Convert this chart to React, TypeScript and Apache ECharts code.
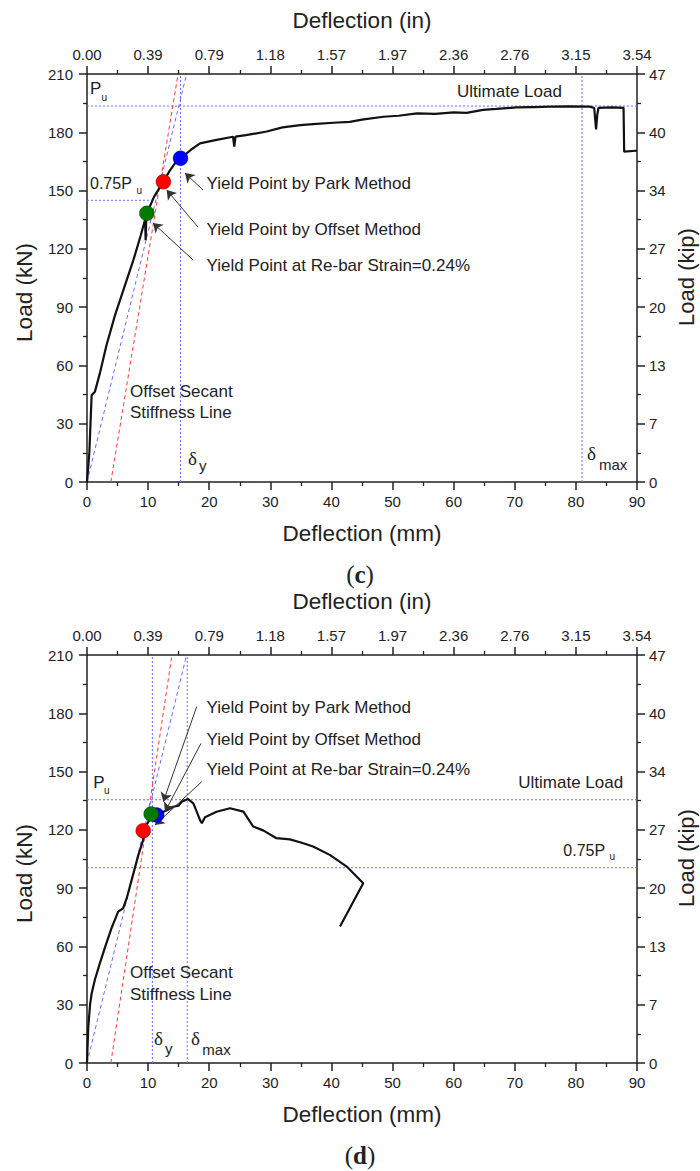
import React, { useEffect, useRef } from "react";
import * as echarts from "echarts";

// ---------- tick labels ----------
const mmLabels = ["0", "10", "20", "30", "40", "50", "60", "70", "80", "90"];
const inchLabels = ["0.00", "0.39", "0.79", "1.18", "1.57", "1.97", "2.36", "2.76", "3.15", "3.54"];
const kNLabels = ["0", "30", "60", "90", "120", "150", "180", "210"];
const kipLabels = ["0", "7", "13", "20", "27", "34", "40", "47"];

// ---------- panel (c) ----------
const curveC: [number, number][] = [
  [0, 0], [0.38, 14.8], [0.76, 44.8], [1.3, 46.5], [2.1, 55.9], [3.2, 70.5], [4.6, 86],
  [5.95, 98.8], [7.6, 114.3], [8.8, 127], [9.5, 135], [9.6, 124.5], [9.7, 136], [9.8, 138.3],
  [11.0, 147], [12.5, 154.5], [13.5, 160], [14.5, 164.5], [15.4, 166.6], [17.0, 171],
  [18.5, 174.3], [21, 176], [23.9, 177.7], [24.1, 172.6], [24.3, 177.8], [26, 178.5],
  [29.4, 180.4], [32, 182.5], [34.9, 183.7], [37, 184.2], [40.3, 184.9], [43, 185.4],
  [45, 186.5], [48.5, 188], [51, 188.5], [54, 189.7], [57, 189.5], [60, 190.2], [62.1, 190],
  [64.8, 191.5], [67, 192], [70.3, 192.8], [73, 193], [75.8, 193.2], [79, 193.3], [82.3, 193.2],
  [83.0, 192.5], [83.3, 181.5], [83.5, 189], [83.7, 192.6], [86, 192.8], [87.8, 192.6],
  [87.9, 170], [89.8, 170.5], [90, 170.5],
];
const parkC: [number, number] = [15.3, 166.6];
const offsetPtC: [number, number] = [12.5, 154.5];
const rebarC: [number, number] = [9.8, 138.3];
const puC = 193.5;
const pu75C = 145;
const pu75EndC = 10.6;
const dyC = 15.3;
const dmaxC = 81;
const secantC: [number, number][] = [[0, 0], [16.3, 210]];
const offsetLineC: [number, number][] = [[3.9, 0], [14.9, 210]];
const arrowsC: [number, number][][] = [
  [[18.98, 150.3], [16.04, 159.0]],
  [[18.16, 131.2], [13.04, 150.3]],
  [[17.35, 114.3], [10.8, 133.3]],
];

// ---------- panel (d) ----------
const curveD: [number, number][] = [
  [0, 0], [0.2, 18], [0.5, 30], [0.77, 35.9], [1.3, 43], [2.1, 51.3], [3.0, 60], [4.0, 69.3],
  [5.1, 77.9], [5.9, 79.6], [6.5, 84.8], [7.6, 97.6], [8.4, 107], [9.2, 114.8], [9.2, 119.6],
  [10.0, 124], [10.8, 127.5], [11.9, 128.5], [13, 130], [14.1, 131.9], [15.0, 132.5],
  [15.5, 134.5], [16.5, 135.9], [17.4, 133.6], [18.0, 129], [18.5, 125], [18.8, 123.4],
  [19.3, 126.5], [21.2, 129.3], [23.4, 131.1], [25.6, 129.4], [27.2, 121.7], [28.2, 120.5],
  [28.9, 119.6], [31.0, 115.7], [33.2, 115.1], [35, 113.5], [37.0, 111.4], [39.8, 107],
  [42.5, 101.1], [45.2, 92.5], [41.4, 70.3],
];
const parkD: [number, number] = [11.4, 127.6];
const offsetPtD: [number, number] = [9.2, 119.6];
const rebarD: [number, number] = [10.5, 128.2];
const puD = 135.5;
const pu75D = 100.5;
const pu75EndD = 90;
const dyD = 10.7;
const dmaxD = 16.4;
const secantD: [number, number][] = [[0, 0], [16.3, 210]];
const offsetLineD: [number, number][] = [[3.9, 0], [13.9, 210]];
const arrowsD: [number, number][][] = [
  [[17.95, 183.4], [12.48, 134.5]],
  [[18.65, 164.5], [12.76, 129.3]],
  [[18.77, 144.8], [11.13, 122.5]],
];

// ---------- styling ----------
const W = 700;
const H = 1171;
const OFF = 581;
const SANS = "'Liberation Sans', Arial, sans-serif";
const SERIF = "'Liberation Serif', 'Times New Roman', serif";
const INK = "#222";
const BLUE = "#6b6bff";
const RED = "#ff3a3a";
const axLine = { color: INK, width: 1.5 };

function xAxes(gridIndex: number) {
  const common = {
    type: "value" as const,
    gridIndex,
    min: 0,
    max: 90,
    interval: 10,
    axisLine: { show: true, onZero: false, lineStyle: axLine },
    axisTick: { show: true, length: 8, lineStyle: axLine },
    minorTick: { show: true, splitNumber: 2, length: 4, lineStyle: { color: INK, width: 1.3 } },
    splitLine: { show: false },
    minorSplitLine: { show: false },
  };
  return [
    {
      ...common,
      position: "bottom",
      axisLabel: { fontSize: 15, color: INK, fontFamily: SANS, margin: 12, formatter: (v: number) => mmLabels[Math.round(v / 10)] },
    },
    {
      ...common,
      position: "top",
      axisLabel: { fontSize: 15, color: INK, fontFamily: SANS, margin: 12, formatter: (v: number) => inchLabels[Math.round(v / 10)] },
    },
  ];
}

function yAxes(gridIndex: number) {
  const common = {
    type: "value" as const,
    gridIndex,
    min: 0,
    max: 210,
    interval: 30,
    axisLine: { show: true, onZero: false, lineStyle: axLine },
    axisTick: { show: true, length: 8, lineStyle: axLine },
    minorTick: { show: true, splitNumber: 2, length: 4, lineStyle: { color: INK, width: 1.3 } },
    splitLine: { show: false },
    minorSplitLine: { show: false },
  };
  return [
    {
      ...common,
      position: "left",
      axisLabel: { fontSize: 15, color: INK, fontFamily: SANS, margin: 14, formatter: (v: number) => kNLabels[Math.round(v / 30)] },
    },
    {
      ...common,
      position: "right",
      axisLabel: { fontSize: 15, color: INK, fontFamily: SANS, margin: 12, formatter: (v: number) => kipLabels[Math.round(v / 30)] },
    },
  ];
}

function seg(axis: number, data: [number, number][], color: string, dash: number[], z = 2) {
  return {
    type: "line",
    xAxisIndex: axis,
    yAxisIndex: axis,
    data,
    symbol: "none",
    silent: true,
    lineStyle: { color, width: 1, type: dash },
    z,
  };
}

function panelSeries(
  axis: number,
  curve: [number, number][],
  pu: number,
  pu75: number,
  pu75End: number,
  dy: number,
  dmax: number,
  secant: [number, number][],
  offsetLine: [number, number][],
  arrows: [number, number][][],
  points: { p: [number, number]; c: string }[]
) {
  const dot = [2, 2];
  return [
    seg(axis, [[0, pu], [90, pu]], BLUE, dot),
    seg(axis, [[0, pu75], [pu75End, pu75]], BLUE, dot),
    seg(axis, [[dy, 0], [dy, 210]], BLUE, dot),
    seg(axis, [[dmax, 0], [dmax, 210]], BLUE, dot),
    seg(axis, secant, BLUE, [4, 3], 3),
    seg(axis, offsetLine, RED, [4, 3], 3),
    {
      type: "line",
      xAxisIndex: axis,
      yAxisIndex: axis,
      data: curve,
      symbol: "none",
      silent: true,
      lineStyle: { color: "#111", width: 2.2 },
      z: 5,
    },
    {
      type: "lines",
      coordinateSystem: "cartesian2d",
      xAxisIndex: axis,
      yAxisIndex: axis,
      symbol: ["none", "arrow"],
      symbolSize: 9,
      silent: true,
      lineStyle: { color: "#333", width: 1, opacity: 1 },
      data: arrows.map((a) => ({ coords: a })),
      z: 6,
    },
    ...points.map((pt) => ({
      type: "scatter",
      xAxisIndex: axis,
      yAxisIndex: axis,
      data: [pt.p],
      symbolSize: 15,
      silent: true,
      itemStyle: { color: pt.c, borderColor: "rgba(0,0,0,0.45)", borderWidth: 0.6, opacity: 1 },
      z: 10,
    })),
  ];
}

function txt(x: number, y: number, text: string, size: number, extra: any = {}) {
  return {
    type: "text",
    x,
    y,
    silent: true,
    z: 100,
    rotation: extra.rotation || 0,
    style: {
      text,
      fill: INK,
      font: `${extra.weight || "normal"} ${size}px ${extra.family || SANS}`,
      textAlign: extra.align || "left",
      textVerticalAlign: "middle",
    },
  };
}

function panelTexts(o: number, isC: boolean) {
  const t: any[] = [];
  // axis titles
  t.push(txt(362, 20 + o, "Deflection (in)", 22.5, { align: "center" }));
  t.push(txt(362, 533 + o, "Deflection (mm)", 22.5, { align: "center" }));
  t.push(txt(24, 292.5 + o, "Load (kN)", 22.5, { align: "center", rotation: Math.PI / 2 }));
  t.push(txt(686, 277 + o, "Load (kip)", 22, { align: "center", rotation: Math.PI / 2 }));
  // caption
  t.push({
    type: "text",
    x: 360,
    y: 574 + o,
    silent: true,
    style: {
      text: isC ? "{p|(}{b|c}{p|)}" : "{p|(}{b|d}{p|)}",
      textAlign: "center",
      textVerticalAlign: "middle",
      rich: {
        p: { fontFamily: SERIF, fontSize: 25, fill: INK },
        b: { fontFamily: SERIF, fontSize: 25, fontWeight: "bold", fill: INK },
      },
    },
  });
  // annotations
  if (isC) {
    t.push(txt(90, 88, "P", 17));
    t.push(txt(101.5, 97, "u", 10));
    t.push(txt(90, 183.5, "0.75P", 16));
    t.push(txt(136.5, 190, "u", 10));
    t.push(txt(457, 91, "Ultimate Load", 17));
    t.push(txt(206.5, 183, "Yield Point by Park Method", 17));
    t.push(txt(206.5, 229.5, "Yield Point by Offset Method", 17));
    t.push(txt(206.5, 265, "Yield Point at Re-bar Strain=0.24%", 17));
    t.push(txt(130, 391, "Offset Secant", 17));
    t.push(txt(130, 412.7, "Stiffness Line", 17));
    t.push(txt(188, 458, "δ", 19, { family: SERIF }));
    t.push(txt(199, 465, "y", 15));
    t.push(txt(587, 453.5, "δ", 19, { family: SERIF }));
    t.push(txt(599, 464, "max", 15));
  } else {
    t.push(txt(93.3, 782.5, "P", 17));
    t.push(txt(104, 790, "u", 10));
    t.push(txt(518.3, 782.5, "Ultimate Load", 17));
    t.push(txt(563.3, 850, "0.75P", 16));
    t.push(txt(609.5, 856.5, "u", 10));
    t.push(txt(206.5, 707.5, "Yield Point by Park Method", 17));
    t.push(txt(206.5, 739, "Yield Point by Offset Method", 17));
    t.push(txt(206.5, 769, "Yield Point at Re-bar Strain=0.24%", 17));
    t.push(txt(130, 972.5, "Offset Secant", 17));
    t.push(txt(130, 994, "Stiffness Line", 17));
    t.push(txt(154, 1038.5, "δ", 19, { family: SERIF }));
    t.push(txt(165, 1048, "y", 15));
    t.push(txt(191, 1038.5, "δ", 19, { family: SERIF }));
    t.push(txt(202.3, 1049, "max", 15));
  }
  return t;
}

function buildOption() {
  return {
    animation: false,
    backgroundColor: "#fff",
    textStyle: { fontFamily: SANS },
    grid: [
      { left: 87, top: 74, width: 550, height: 408, containLabel: false },
      { left: 87, top: 74 + OFF, width: 550, height: 408, containLabel: false },
    ],
    xAxis: [...xAxes(0), ...xAxes(1)],
    yAxis: [...yAxes(0), ...yAxes(1)],
    series: [
      ...panelSeries(0, curveC, puC, pu75C, pu75EndC, dyC, dmaxC, secantC, offsetLineC, arrowsC, [
        { p: parkC, c: "#0000ff" },
        { p: offsetPtC, c: "#ff0000" },
        { p: rebarC, c: "#007a00" },
      ]),
      ...panelSeries(2, curveD, puD, pu75D, pu75EndD, dyD, dmaxD, secantD, offsetLineD, arrowsD, [
        { p: parkD, c: "#0000ff" },
        { p: rebarD, c: "#007a00" },
        { p: offsetPtD, c: "#ff0000" },
      ]),
    ],
    graphic: [...panelTexts(0, true), ...panelTexts(OFF, false)],
  };
}

export default function App() {
  const ref = useRef<HTMLDivElement>(null);
  useEffect(() => {
    if (!ref.current) return;
    const chart = echarts.init(ref.current, null, { renderer: "svg" });
    chart.setOption(buildOption() as any);
    return () => chart.dispose();
  }, []);
  return (
    <div
      ref={ref}
      style={{ position: "absolute", left: 0, top: 0, width: W, height: H, background: "#fff" }}
    />
  );
}
